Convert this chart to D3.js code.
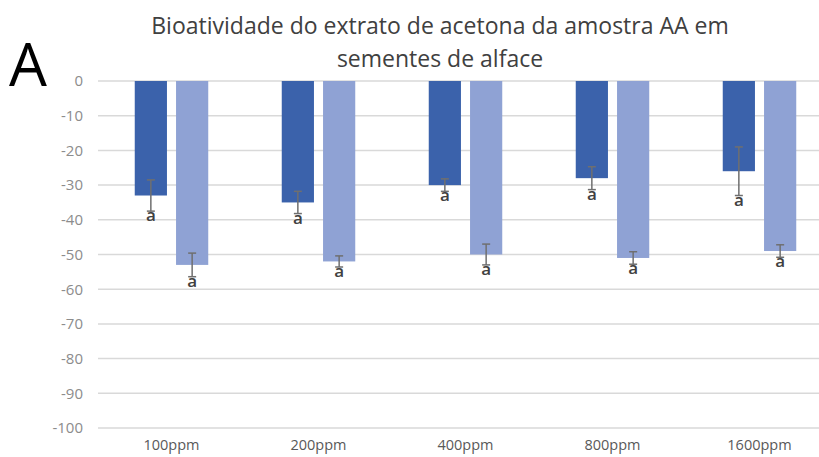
<!DOCTYPE html>
<html>
<head>
<meta charset="utf-8">
<script src="https://cdn.jsdelivr.net/npm/d3@7"></script>
<style>
  body { margin: 0; background: #fff; }
  svg { display: block; font-family: "Open Sans", sans-serif; }
</style>
</head>
<body>
<script>
var w = 819;
var h = 457;

// Data
var categories = ["100ppm", "200ppm", "400ppm", "800ppm", "1600ppm"];
var series1 = [-33, -35, -30, -28, -26];
var error1 = [4.5, 3.2, 1.8, 3.3, 7];
var series2 = [-53, -52, -50, -51, -49];
var error2 = [3.4, 1.6, 3, 1.8, 1.8];
var letters1 = ["a", "a", "a", "a", "a"];
var letters2 = ["a", "a", "a", "a", "a"];
var yTicks = [0, -10, -20, -30, -40, -50, -60, -70, -80, -90, -100];

var colors = ["#3b62ab", "#8fa2d4"];

var svg = d3.select("body")
  .append("svg")
  .attr("width", w)
  .attr("height", h);

// scales
var y = d3.scaleLinear()
  .domain([0, -100])
  .range([81, 428]);

var x0 = d3.scaleBand()
  .domain(categories)
  .range([98, 833])
  .paddingInner(0.5)
  .paddingOuter(0.25);

var x1 = d3.scaleBand()
  .domain([0, 1])
  .range([0, x0.bandwidth()])
  .paddingInner(0.22);

// gridlines
svg.append("g")
  .selectAll("line")
  .data(yTicks)
  .enter()
  .append("line")
  .attr("x1", 98)
  .attr("x2", 833)
  .attr("y1", function(d) { return y(d); })
  .attr("y2", function(d) { return y(d); })
  .attr("stroke", "#d9d9d9")
  .attr("stroke-width", 1.5);

// y axis labels (plain hyphen like the original)
var yAxis = d3.axisLeft(y)
  .tickValues(yTicks)
  .tickFormat(function(d) { return String(d); })
  .tickSize(0)
  .tickPadding(0);

svg.append("g")
  .attr("transform", "translate(83,0)")
  .call(yAxis)
  .call(function(g) {
    g.select(".domain").remove();
    g.selectAll("text")
      .attr("fill", "#8c8c8c")
      .style("font-size", "15px")
      .style("font-family", "'Open Sans', sans-serif");
  });

// x axis labels
var xAxis = d3.axisBottom(x0)
  .tickSize(0)
  .tickPadding(0);

svg.append("g")
  .attr("transform", "translate(0,440)")
  .call(xAxis)
  .call(function(g) {
    g.select(".domain").remove();
    g.selectAll("text")
      .attr("fill", "#595959")
      .style("font-size", "14.5px")
      .style("font-family", "'Open Sans', sans-serif");
  });

// build rows for both series
var rows = [];
categories.forEach(function(c, i) {
  rows.push({ cat: c, s: 0, value: series1[i], err: error1[i], letter: letters1[i] });
  rows.push({ cat: c, s: 1, value: series2[i], err: error2[i], letter: letters2[i] });
});

function cx(d) {
  return x0(d.cat) + x1(d.s) + x1.bandwidth() / 2;
}

// bars
svg.append("g")
  .selectAll("rect")
  .data(rows)
  .enter()
  .append("rect")
  .attr("x", function(d) { return x0(d.cat) + x1(d.s); })
  .attr("y", y(0))
  .attr("width", x1.bandwidth())
  .attr("height", function(d) { return y(d.value) - y(0); })
  .attr("fill", function(d) { return colors[d.s]; });

// error bars
var eb = svg.append("g")
  .attr("stroke", "#6f6f6f")
  .attr("stroke-width", 1.5);

eb.selectAll("line.v")
  .data(rows)
  .enter()
  .append("line")
  .attr("class", "v")
  .attr("x1", cx)
  .attr("x2", cx)
  .attr("y1", function(d) { return y(d.value + d.err); })
  .attr("y2", function(d) { return y(d.value - d.err); });

eb.selectAll("line.top")
  .data(rows)
  .enter()
  .append("line")
  .attr("class", "top")
  .attr("x1", function(d) { return cx(d) - 4; })
  .attr("x2", function(d) { return cx(d) + 4; })
  .attr("y1", function(d) { return y(d.value + d.err); })
  .attr("y2", function(d) { return y(d.value + d.err); });

eb.selectAll("line.bot")
  .data(rows)
  .enter()
  .append("line")
  .attr("class", "bot")
  .attr("x1", function(d) { return cx(d) - 4; })
  .attr("x2", function(d) { return cx(d) + 4; })
  .attr("y1", function(d) { return y(d.value - d.err); })
  .attr("y2", function(d) { return y(d.value - d.err); });

// significance letters
svg.append("g")
  .selectAll("text")
  .data(rows)
  .enter()
  .append("text")
  .attr("x", cx)
  .attr("y", function(d) { return y(d.value - d.err) + 10; })
  .attr("text-anchor", "middle")
  .attr("fill", "#404040")
  .style("font-size", "17px")
  .style("font-weight", "600")
  .text(function(d) { return d.letter; });

// title
var title = svg.append("text")
  .attr("text-anchor", "middle")
  .attr("fill", "#404040")
  .style("font-size", "23px");

title.append("tspan")
  .attr("x", 440)
  .attr("y", 34)
  .text("Bioatividade do extrato de acetona da amostra AA em");

title.append("tspan")
  .attr("x", 440)
  .attr("y", 67)
  .text("sementes de alface");

// panel letter
svg.append("text")
  .attr("x", 9)
  .attr("y", 86)
  .attr("fill", "#000")
  .style("font-size", "60px")
  .text("A");
</script>
</body>
</html>
